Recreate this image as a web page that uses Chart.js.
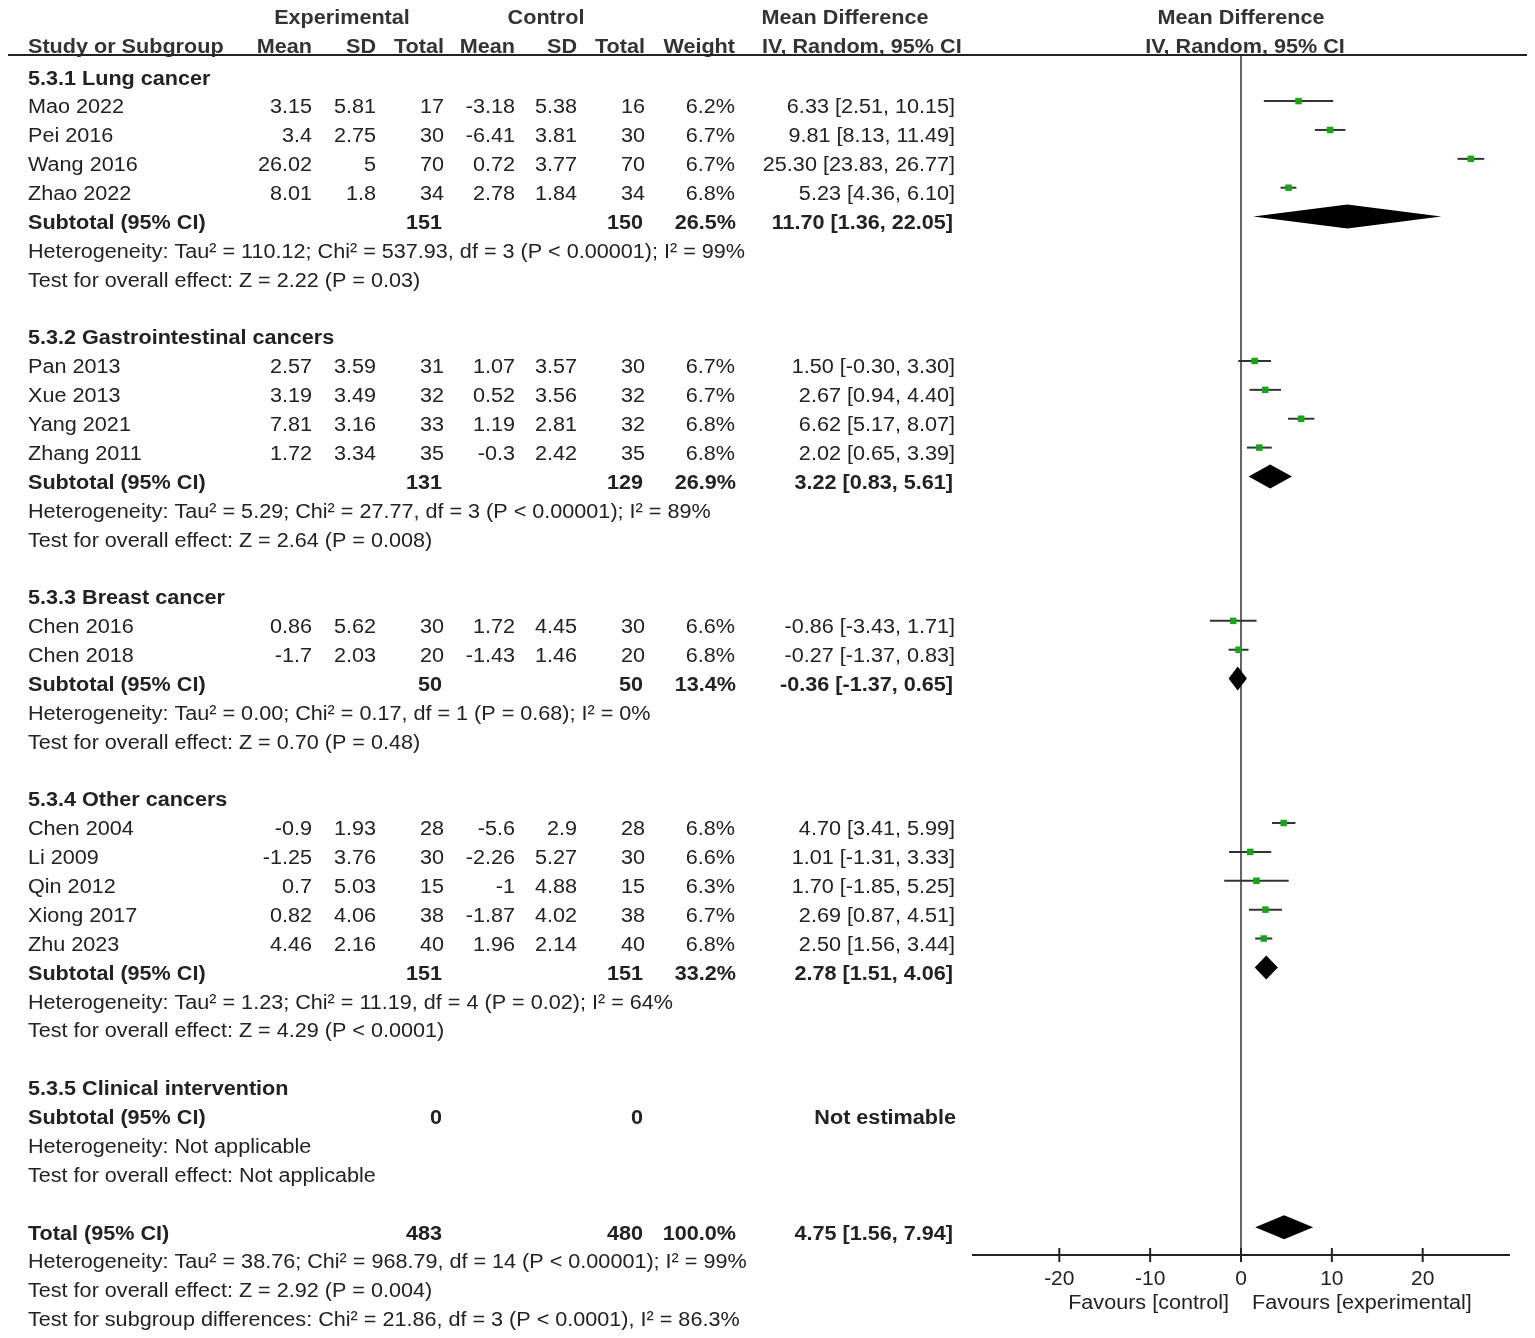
<!DOCTYPE html>
<html>
<head>
<meta charset="utf-8">
<script src="https://cdn.jsdelivr.net/npm/chart.js@4.4.1/dist/chart.umd.min.js"></script>
<style>
  html, body { margin: 0; padding: 0; background: #fff; }
  canvas { display: block; }
</style>
</head>
<body>
<canvas id="forestChart" width="1535" height="1338"></canvas>
<script>
// ---- studies ----
const studyNames = ['Mao 2022', 'Pei 2016', 'Wang 2016', 'Zhao 2022',
    'Pan 2013', 'Xue 2013', 'Yang 2021', 'Zhang 2011',
    'Chen 2016', 'Chen 2018',
    'Chen 2004', 'Li 2009', 'Qin 2012', 'Xiong 2017', 'Zhu 2023'];
const studyRows = [1, 2, 3, 4, 10, 11, 12, 13, 19, 20, 26, 27, 28, 29, 30];
const expMean = [3.15, 3.4, 26.02, 8.01, 2.57, 3.19, 7.81, 1.72, 0.86, -1.7, -0.9, -1.25, 0.7, 0.82, 4.46];
const expSD = [5.81, 2.75, 5, 1.8, 3.59, 3.49, 3.16, 3.34, 5.62, 2.03, 1.93, 3.76, 5.03, 4.06, 2.16];
const expTotal = [17, 30, 70, 34, 31, 32, 33, 35, 30, 20, 28, 30, 15, 38, 40];
const ctlMean = [-3.18, -6.41, 0.72, 2.78, 1.07, 0.52, 1.19, -0.3, 1.72, -1.43, -5.6, -2.26, -1, -1.87, 1.96];
const ctlSD = [5.38, 3.81, 3.77, 1.84, 3.57, 3.56, 2.81, 2.42, 4.45, 1.46, 2.9, 5.27, 4.88, 4.02, 2.14];
const ctlTotal = [16, 30, 70, 34, 30, 32, 32, 35, 30, 20, 28, 30, 15, 38, 40];
const weights = [6.2, 6.7, 6.7, 6.8, 6.7, 6.7, 6.8, 6.8, 6.6, 6.8, 6.8, 6.6, 6.3, 6.7, 6.8];
const mdValue = [6.33, 9.81, 25.30, 5.23, 1.50, 2.67, 6.62, 2.02, -0.86, -0.27, 4.70, 1.01, 1.70, 2.69, 2.50];
const ciLow = [2.51, 8.13, 23.83, 4.36, -0.30, 0.94, 5.17, 0.65, -3.43, -1.37, 3.41, -1.31, -1.85, 0.87, 1.56];
const ciHigh = [10.15, 11.49, 26.77, 6.10, 3.30, 4.40, 8.07, 3.39, 1.71, 0.83, 5.99, 3.33, 5.25, 4.51, 3.44];

// ---- subgroups ----
const subNames = ['5.3.1 Lung cancer', '5.3.2 Gastrointestinal cancers', '5.3.3 Breast cancer',
    '5.3.4 Other cancers', '5.3.5 Clinical intervention'];
const subHeaderRows = [0, 9, 18, 25, 35];
const subTotalRows = [5, 14, 21, 31, 36];
const subExpTotal = [151, 131, 50, 151, 0];
const subCtlTotal = [150, 129, 50, 151, 0];
const subWeight = [26.5, 26.9, 13.4, 33.2, null];
const subMD = [11.70, 3.22, -0.36, 2.78, null];
const subLow = [1.36, 0.83, -1.37, 1.51, null];
const subHigh = [22.05, 5.61, 0.65, 4.06, null];
const subHet = [
    'Heterogeneity: Tau² = 110.12; Chi² = 537.93, df = 3 (P < 0.00001); I² = 99%',
    'Heterogeneity: Tau² = 5.29; Chi² = 27.77, df = 3 (P < 0.00001); I² = 89%',
    'Heterogeneity: Tau² = 0.00; Chi² = 0.17, df = 1 (P = 0.68); I² = 0%',
    'Heterogeneity: Tau² = 1.23; Chi² = 11.19, df = 4 (P = 0.02); I² = 64%',
    'Heterogeneity: Not applicable'];
const subTest = [
    'Test for overall effect: Z = 2.22 (P = 0.03)',
    'Test for overall effect: Z = 2.64 (P = 0.008)',
    'Test for overall effect: Z = 0.70 (P = 0.48)',
    'Test for overall effect: Z = 4.29 (P < 0.0001)',
    'Test for overall effect: Not applicable'];

// ---- overall ----
const totalRow = 40;
const totalExp = 483;
const totalCtl = 480;
const totalWeight = 100.0;
const totalMD = 4.75;
const totalLow = 1.56;
const totalHigh = 7.94;
const footerLines = [
    'Heterogeneity: Tau² = 38.76; Chi² = 968.79, df = 14 (P < 0.00001); I² = 99%',
    'Test for overall effect: Z = 2.92 (P = 0.004)',
    'Test for subgroup differences: Chi² = 21.86, df = 3 (P < 0.0001), I² = 86.3%'];

const xTicks = [-20, -10, 0, 10, 20];
const favourLabels = ['Favours [control]', 'Favours [experimental]'];

// row range of the plot area (rows grow downward)
const yMin = -0.796;
const yMax = 40.76;
const markOffset = 0.2;

const FONT = '"Liberation Sans", Arial, sans-serif';
const STRETCH = 1.08;   // source text is a little wider than Arial
const col = { study: 28, expMean: 312, expSD: 376, expTotal: 444, ctlMean: 515, ctlSD: 577,
    ctlTotal: 645, weight: 735, ci: 955 };

function fmtCI(m, lo, hi) {
    return m.toFixed(2) + ' [' + lo.toFixed(2) + ', ' + hi.toFixed(2) + ']';
}

function put(ctx, text, x, y, align, bold) {
    ctx.save();
    ctx.font = (bold ? 'bold ' : '') + '20px ' + FONT;
    ctx.textAlign = align;
    ctx.textBaseline = 'middle';
    ctx.translate(x, y + 1);
    ctx.scale(STRETCH, 1);
    ctx.fillText(text, 0, 0);
    ctx.restore();
}

function diamond(ctx, xs, ys, m, lo, hi, row) {
    const cy = ys.getPixelForValue(row - markOffset);
    ctx.beginPath();
    ctx.moveTo(xs.getPixelForValue(lo), cy);
    ctx.lineTo(xs.getPixelForValue(m), cy - 12);
    ctx.lineTo(xs.getPixelForValue(hi), cy);
    ctx.lineTo(xs.getPixelForValue(m), cy + 12);
    ctx.closePath();
    ctx.fill();
}

const forestPlugin = {
    id: 'forestText',
    afterDatasetsDraw(chart) {
        const ctx = chart.ctx;
        const xs = chart.scales.x, ys = chart.scales.y;
        ctx.save();
        ctx.fillStyle = '#000';
        subMD.forEach((m, i) => {
            if (m !== null) diamond(ctx, xs, ys, m, subLow[i], subHigh[i], subTotalRows[i]);
        });
        diamond(ctx, xs, ys, totalMD, totalLow, totalHigh, totalRow);
        ctx.restore();
    },
    afterDraw(chart) {
        const ctx = chart.ctx;
        const xs = chart.scales.x, ys = chart.scales.y;
        const area = chart.chartArea;
        const py = r => ys.getPixelForValue(r);
        ctx.save();

        // header
        ctx.fillStyle = '#333';
        const h1 = py(-2.08), h2 = py(-1.1);
        put(ctx, 'Experimental', 342, h1, 'center', true);
        put(ctx, 'Control', 546, h1, 'center', true);
        put(ctx, 'Mean Difference', 845, h1, 'center', true);
        put(ctx, 'Mean Difference', xs.getPixelForValue(0), h1, 'center', true);
        put(ctx, 'Study or Subgroup', col.study, h2, 'left', true);
        put(ctx, 'Mean', col.expMean, h2, 'right', true);
        put(ctx, 'SD', col.expSD, h2, 'right', true);
        put(ctx, 'Total', col.expTotal, h2, 'right', true);
        put(ctx, 'Mean', col.ctlMean, h2, 'right', true);
        put(ctx, 'SD', col.ctlSD, h2, 'right', true);
        put(ctx, 'Total', col.ctlTotal, h2, 'right', true);
        put(ctx, 'Weight', col.weight, h2, 'right', true);
        put(ctx, 'IV, Random, 95% CI', 762, h2, 'left', true);
        put(ctx, 'IV, Random, 95% CI', xs.getPixelForValue(0) + 4, h2, 'center', true);
        ctx.strokeStyle = '#222';
        ctx.lineWidth = 2;
        ctx.beginPath();
        ctx.moveTo(8, area.top);
        ctx.lineTo(1527, area.top);
        ctx.stroke();

        ctx.fillStyle = '#222';
        // studies
        studyNames.forEach((name, i) => {
            const y = py(studyRows[i]);
            put(ctx, name, col.study, y, 'left');
            put(ctx, String(expMean[i]), col.expMean, y, 'right');
            put(ctx, String(expSD[i]), col.expSD, y, 'right');
            put(ctx, String(expTotal[i]), col.expTotal, y, 'right');
            put(ctx, String(ctlMean[i]), col.ctlMean, y, 'right');
            put(ctx, String(ctlSD[i]), col.ctlSD, y, 'right');
            put(ctx, String(ctlTotal[i]), col.ctlTotal, y, 'right');
            put(ctx, weights[i].toFixed(1) + '%', col.weight, y, 'right');
            put(ctx, fmtCI(mdValue[i], ciLow[i], ciHigh[i]), col.ci, y, 'right');
        });

        // subgroups
        subNames.forEach((name, i) => {
            put(ctx, name, col.study, py(subHeaderRows[i]), 'left', true);
            const y = py(subTotalRows[i]);
            put(ctx, 'Subtotal (95% CI)', col.study, y, 'left', true);
            put(ctx, String(subExpTotal[i]), col.expTotal - 2, y, 'right', true);
            put(ctx, String(subCtlTotal[i]), col.ctlTotal - 2, y, 'right', true);
            if (subMD[i] !== null) {
                put(ctx, subWeight[i].toFixed(1) + '%', col.weight + 1, y, 'right', true);
                put(ctx, fmtCI(subMD[i], subLow[i], subHigh[i]), col.ci - 2, y, 'right', true);
            } else {
                put(ctx, 'Not estimable', col.ci + 1, y, 'right', true);
            }
            put(ctx, subHet[i], col.study, py(subTotalRows[i] + 1), 'left');
            put(ctx, subTest[i], col.study, py(subTotalRows[i] + 2), 'left');
        });

        // overall
        const ty = py(totalRow);
        put(ctx, 'Total (95% CI)', col.study, ty, 'left', true);
        put(ctx, String(totalExp), col.expTotal - 2, ty, 'right', true);
        put(ctx, String(totalCtl), col.ctlTotal - 2, ty, 'right', true);
        put(ctx, totalWeight.toFixed(1) + '%', col.weight + 1, ty, 'right', true);
        put(ctx, fmtCI(totalMD, totalLow, totalHigh), col.ci - 2, ty, 'right', true);
        footerLines.forEach((t, i) => put(ctx, t, col.study, py(totalRow + 1 + i), 'left'));

        // tick marks crossing the axis
        ctx.strokeStyle = '#222';
        ctx.lineWidth = 2;
        xTicks.forEach(v => {
            const x = xs.getPixelForValue(v);
            ctx.beginPath();
            ctx.moveTo(x, area.bottom - 7);
            ctx.lineTo(x, area.bottom + 7);
            ctx.stroke();
        });
        const zx = xs.getPixelForValue(0);
        put(ctx, favourLabels[0], zx - 12, area.bottom + 47, 'right');
        put(ctx, favourLabels[1], zx + 11, area.bottom + 47, 'left');
        ctx.restore();
    }
};

const squares = {
    data: studyNames.map((n, i) => ({ x: mdValue[i], y: studyRows[i] - markOffset })),
    pointStyle: 'rect',
    pointRadius: 4.6,
    backgroundColor: '#16a516',
    borderWidth: 0
};

const ciLines = studyNames.map((n, i) => ({
    data: [{ x: ciLow[i], y: studyRows[i] - markOffset }, { x: ciHigh[i], y: studyRows[i] - markOffset }],
    showLine: true,
    borderColor: '#333',
    borderWidth: 2,
    pointRadius: 0
}));

const zeroLine = {
    data: [{ x: 0, y: yMin }, { x: 0, y: yMax }],
    showLine: true,
    borderColor: '#333',
    borderWidth: 1.5,
    pointRadius: 0
};

new Chart(document.getElementById('forestChart'), {
    type: 'scatter',
    data: { datasets: [squares, ...ciLines, zeroLine] },
    options: {
        responsive: false,
        animation: false,
        layout: { padding: { left: 973, right: 26, top: 55, bottom: 0 } },
        plugins: { legend: { display: false }, tooltip: { enabled: false } },
        scales: {
            x: {
                type: 'linear',
                min: -29.5,
                max: 29.5,
                afterBuildTicks: s => { s.ticks = xTicks.map(v => ({ value: v })); },
                afterFit: s => { s.height = 83; },
                grid: { display: false, drawTicks: false },
                border: { display: true, color: '#222', width: 2 },
                ticks: { color: '#222', padding: 12, font: { size: 21, family: FONT } }
            },
            y: { type: 'linear', display: false, reverse: true, min: yMin, max: yMax }
        }
    },
    plugins: [forestPlugin]
});
</script>
</body>
</html>
